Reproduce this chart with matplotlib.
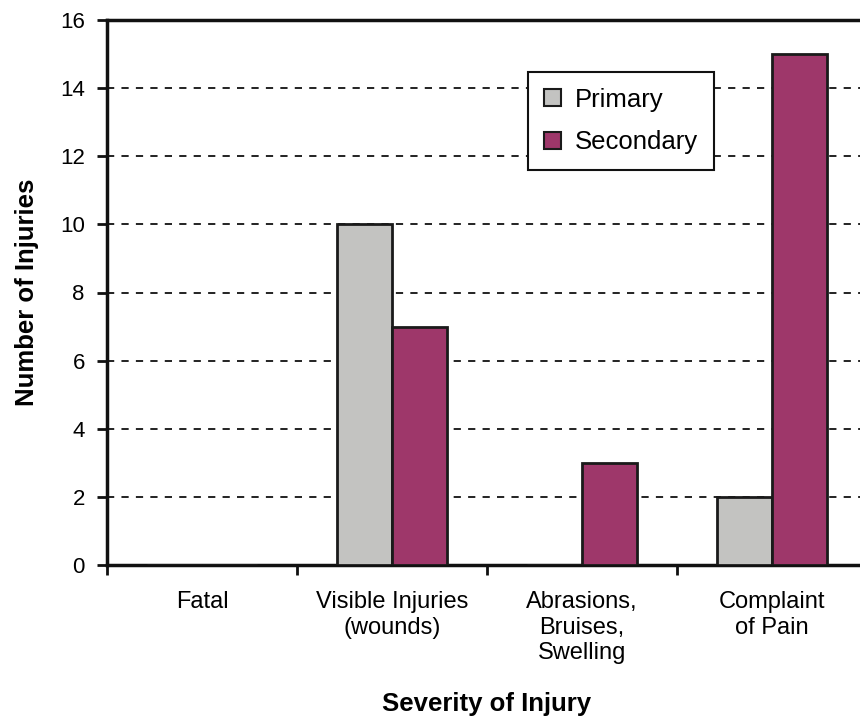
import matplotlib
matplotlib.use("Agg")
import matplotlib.pyplot as plt
import numpy as np

plt.rcParams['font.family'] = ['Liberation Sans', 'DejaVu Sans']

categories = ["Fatal", "Visible Injuries\n(wounds)", "Abrasions,\nBruises,\nSwelling", "Complaint\nof Pain"]
primary = [0, 10, 0, 2]
secondary = [0, 7, 3, 15]
yticks = [0, 2, 4, 6, 8, 10, 12, 14, 16]

W, H = 860, 719
fig = plt.figure(figsize=(W/100, H/100), dpi=100)
left, right, top, bottom = 107, 867, 20, 565
ax = fig.add_axes([left/W, 1-bottom/H, (right-left)/W, (bottom-top)/H])

x = np.arange(len(categories))
bw = 0.29
ax.bar(x - bw/2, primary, bw, color='#C3C3C1', edgecolor='#1a1a1a', linewidth=2, label='Primary', zorder=3)
ax.bar(x + bw/2, secondary, bw, color='#9E376A', edgecolor='#1a1a1a', linewidth=2, label='Secondary', zorder=3)

ax.set_xlim(-0.5, 3.5)
ax.set_ylim(0, 16)
ax.set_yticks(yticks)
ax.set_yticklabels([str(v) for v in yticks], fontsize=16)
ax.yaxis.grid(True, linestyle=(0, (4, 4)), color='#111111', linewidth=1.3, zorder=0)
ax.set_axisbelow(True)

ax.set_xticks(x)
ax.set_xticklabels(categories, fontsize=17, linespacing=1.2)
ax.tick_params(axis='x', which='major', length=0, pad=19)
ax.set_xticks(np.arange(-0.5, 3.6, 1), minor=True)
ax.tick_params(axis='x', which='minor', length=7, width=2, color='#111111')
ax.tick_params(axis='y', length=7, width=2, color='#111111', pad=9)

for s in ['left', 'bottom', 'top']:
    ax.spines[s].set_linewidth(2.5)
    ax.spines[s].set_color('#111111')
ax.spines['right'].set_visible(False)

ax.set_xlabel("Severity of Injury", fontsize=18.5, fontweight='bold', labelpad=20)
ax.set_ylabel("Number of Injuries", fontsize=18.5, fontweight='bold', labelpad=15)

leg = ax.legend(loc='upper left', bbox_to_anchor=((528-left)/(right-left), 1-(72-top)/(bottom-top)),
                fontsize=18.5, frameon=True, fancybox=False, edgecolor='#111111', framealpha=1,
                handlelength=0.65, handleheight=0.65, handletextpad=0.55, borderpad=0.62,
                labelspacing=0.72, borderaxespad=0)
leg.get_frame().set_linewidth(1.5)
leg.set_zorder(10)
for p in leg.get_patches():
    p.set_linewidth(1.5)

fig.savefig("out.png", dpi=100)
